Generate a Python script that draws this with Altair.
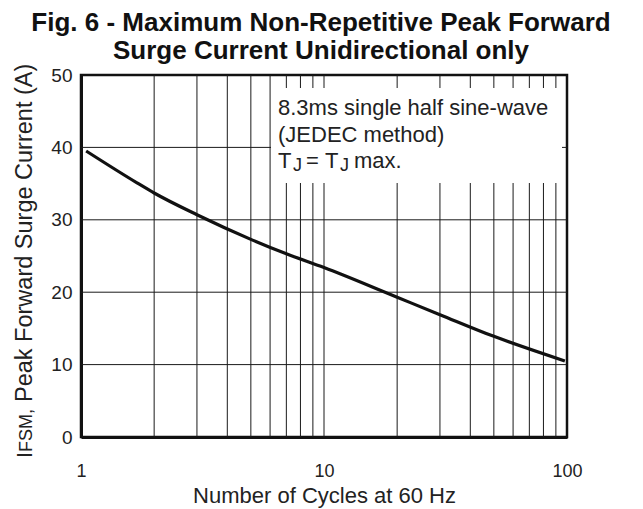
import altair as alt
import pandas as pd

# ---- data ----
cycles = [1.05, 1.7, 2, 3, 5, 7, 10, 20, 30, 50, 98]
current = [39.5, 35.1, 33.7, 30.7, 27.3, 25.3, 23.4, 19.3, 16.9, 13.9, 10.5]
x_grid = [2, 3, 4, 5, 6, 7, 8, 9, 10, 20, 30, 40, 50, 60, 70, 80, 90]
y_grid = [10, 20, 30, 40]
x_ticks = [1, 10, 100]
y_ticks = [0, 10, 20, 30, 40, 50]
title_lines = ["Fig. 6 - Maximum Non-Repetitive Peak Forward",
               "Surge Current Unidirectional only"]
note_lines = ["8.3ms single half sine-wave", "(JEDEC method)"]
x_title = "Number of Cycles at 60 Hz"
y_title_parts = ["I", "FSM,", "Peak Forward Surge Current (A)"]

FONT = "Liberation Sans"
W, H = 486, 362

curve = pd.DataFrame({"cycles": cycles, "current": current})
xg = pd.DataFrame({"x": x_grid})
yg = pd.DataFrame({"y": y_grid})
one = pd.DataFrame({"a": [0]})

xscale = alt.Scale(type="log", domain=[1, 100])
yscale = alt.Scale(domain=[0, 50])

vgrid = alt.Chart(xg).mark_rule(color="#1a1a1a", strokeWidth=1).encode(
    x=alt.X("x:Q", scale=xscale,
            axis=alt.Axis(values=x_ticks, title=x_title, grid=False, ticks=False,
                          labelPadding=25, titlePadding=5, format="d",
                          labelFlush=False,
                          labelFontSize=18, titleFontSize=22,
                          domainWidth=3, domainColor="#111"))
)
hgrid = alt.Chart(yg).mark_rule(color="#1a1a1a", strokeWidth=1).encode(
    y=alt.Y("y:Q", scale=yscale,
            axis=alt.Axis(values=y_ticks, title=None, grid=False, ticks=False,
                          labelPadding=9, labelFontSize=19, labelFlush=False,
                          domainWidth=3, domainColor="#111"))
)

box = alt.Chart(one).mark_rect(color="white").encode(
    x=alt.value(190), x2=alt.value(481), y=alt.value(13), y2=alt.value(108)
)

line = alt.Chart(curve).mark_line(color="#111", strokeWidth=3.2,
                                  interpolate="monotone").encode(
    x=alt.X("cycles:Q", scale=xscale),
    y=alt.Y("current:Q", scale=yscale),
)

def txt(s, x, y, size=22, angle=0):
    return alt.Chart(one).mark_text(
        text=s, font=FONT, fontSize=size, align="left", baseline="alphabetic",
        color="#222", angle=angle
    ).encode(x=alt.value(x), y=alt.value(y))

notes = [txt(note_lines[0], 197, 40), txt(note_lines[1], 197, 67),
         txt("T", 197, 93), txt("J", 212, 96, 18), txt("=", 225, 93),
         txt("T", 244, 93), txt("J", 259, 96, 18), txt("max.", 273, 93)]

ytitle = [txt(y_title_parts[0], -49, 383, 22, 270),
          txt(y_title_parts[1], -49, 377, 18, 270),
          txt(y_title_parts[2], -49, 327, 23.5, 270)]

chart = alt.layer(vgrid, hgrid, box, line, *notes, *ytitle).properties(
    width=W, height=H,
    title=alt.TitleParams(text=title_lines, fontSize=26, font=FONT, fontWeight="bold",
                          anchor="middle", offset=0, lineHeight=28, color="#111", dx=-3),
    autosize="none",
    padding={"left": 73, "top": 67, "right": 68, "bottom": 90},
).configure_view(stroke="#111", strokeWidth=2.5).configure_axis(
    labelFont=FONT, titleFont=FONT,
    labelColor="#222", titleColor="#222", titleFontWeight="normal"
)

chart.save("out.html", embed_options={"renderer": "svg", "actions": False})
